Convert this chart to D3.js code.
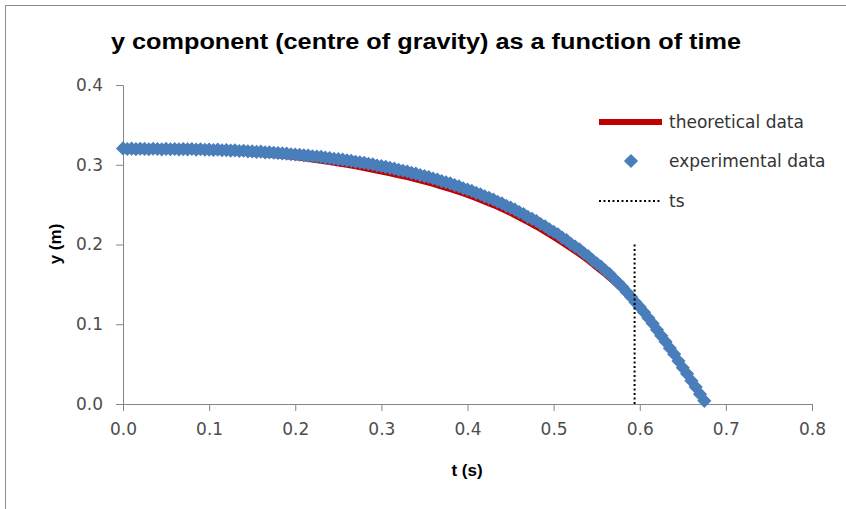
<!DOCTYPE html>
<html>
<head>
<meta charset="utf-8">
<script src="https://cdn.jsdelivr.net/npm/d3@7"></script>
<style>
  body { margin: 0; background: #fff; }
  text { font-family: "DejaVu Sans", sans-serif; }
</style>
</head>
<body>
<div id="chart"></div>
<script>
var width = 846,
    height = 509;

// experimental points (t in s, y in m)
var expT = [0.000,0.005,0.010,0.015,0.020,0.025,0.030,0.035,0.040,0.045,
            0.050,0.055,0.060,0.065,0.070,0.075,0.080,0.085,0.090,0.095,
            0.100,0.105,0.110,0.115,0.120,0.125,0.130,0.135,0.140,0.145,
            0.150,0.155,0.160,0.165,0.170,0.175,0.180,0.185,0.190,0.195,
            0.200,0.205,0.210,0.215,0.220,0.225,0.230,0.235,0.240,0.245,
            0.250,0.255,0.260,0.265,0.270,0.275,0.280,0.285,0.290,0.295,
            0.300,0.305,0.310,0.315,0.320,0.325,0.330,0.335,0.340,0.345,
            0.350,0.355,0.360,0.365,0.370,0.375,0.380,0.385,0.390,0.395,
            0.400,0.405,0.410,0.415,0.420,0.425,0.430,0.435,0.440,0.445,
            0.450,0.455,0.460,0.465,0.470,0.475,0.480,0.485,0.490,0.495,
            0.500,0.505,0.510,0.515,0.520,0.525,0.530,0.535,0.540,0.545,
            0.550,0.555,0.560,0.565,0.570,0.575,0.580,0.585,0.590,0.595,
            0.600,0.605,0.610,0.615,0.620,0.625,0.630,0.635,0.640,0.645,
            0.650,0.655,0.660,0.665,0.670,0.675];
var expY = [0.3205,0.3198,0.3202,0.3196,0.3201,0.3199,0.3194,0.3201,0.3197,0.3193,
            0.3199,0.3195,0.3198,0.3192,0.3196,0.3193,0.3197,0.3190,0.3194,0.3188,
            0.3190,0.3185,0.3189,0.3182,0.3184,0.3178,0.3181,0.3173,0.3176,0.3168,
            0.3167,0.3162,0.3164,0.3155,0.3156,0.3150,0.3148,0.3142,0.3140,0.3132,
            0.3129,0.3126,0.3118,0.3115,0.3106,0.3103,0.3099,0.3089,0.3084,0.3075,
            0.3070,0.3064,0.3055,0.3049,0.3038,0.3030,0.3024,0.3012,0.3005,0.2990,
            0.2982,0.2974,0.2960,0.2951,0.2936,0.2925,0.2916,0.2899,0.2888,0.2870,
            0.2858,0.2846,0.2827,0.2814,0.2794,0.2780,0.2766,0.2744,0.2729,0.2706,
            0.2690,0.2672,0.2648,0.2630,0.2604,0.2585,0.2564,0.2536,0.2515,0.2485,
            0.2463,0.2438,0.2406,0.2381,0.2347,0.2322,0.2294,0.2257,0.2229,0.2190,
            0.2160,0.2128,0.2086,0.2054,0.2010,0.1975,0.1940,0.1893,0.1856,0.1806,
            0.1765,0.1724,0.1673,0.1630,0.1572,0.1520,0.1465,0.1402,0.1343,0.1275,
            0.1215,0.1150,0.1078,0.1010,0.0930,0.0855,0.0782,0.0700,0.0625,0.0538,
            0.0455,0.0378,0.0290,0.0212,0.0123,0.0040];

// theoretical curve
var theoT = [0.00,0.01,0.02,0.03,0.04,0.05,0.06,0.07,0.08,0.09,
             0.10,0.11,0.12,0.13,0.14,0.15,0.16,0.17,0.18,0.19,
             0.20,0.21,0.22,0.23,0.24,0.25,0.26,0.27,0.28,0.29,
             0.30,0.31,0.32,0.33,0.34,0.35,0.36,0.37,0.38,0.39,
             0.40,0.41,0.42,0.43,0.44,0.45,0.46,0.47,0.48,0.49,
             0.50,0.51,0.52,0.53,0.54,0.55,0.56,0.57,0.58,0.59,
             0.60,0.61,0.62,0.63,0.64,0.65,0.66,0.67,0.677];
var theoY = [0.3200,0.3198,0.3195,0.3192,0.3189,0.3187,0.3184,0.3180,0.3176,0.3172,
             0.3167,0.3162,0.3157,0.3151,0.3144,0.3136,0.3128,0.3119,0.3109,0.3099,
             0.3089,0.3074,0.3059,0.3044,0.3027,0.3010,0.2992,0.2973,0.2953,0.2931,
             0.2907,0.2886,0.2862,0.2839,0.2812,0.2783,0.2753,0.2721,0.2689,0.2653,
             0.2615,0.2575,0.2531,0.2488,0.2439,0.2388,0.2333,0.2275,0.2217,0.2152,
             0.2085,0.2016,0.1943,0.1873,0.1792,0.1705,0.1619,0.1525,0.1423,0.1307,
             0.1185,0.1053,0.0910,0.0767,0.0615,0.0450,0.0290,0.0123,0.0000];

// ts marker
var tsT = [0.594, 0.594];
var tsY = [0.0, 0.2];

var xTicks = [0, 0.1, 0.2, 0.3, 0.4, 0.5, 0.6, 0.7, 0.8];
var yTicks = [0, 0.1, 0.2, 0.3, 0.4];
var legendLabels = ["theoretical data", "experimental data", "ts"];

var blue = "#4a7ebb", red = "#c00000", axisGrey = "#868686", labelGrey = "#4d4d4d";

var svg = d3.select("#chart").append("svg")
    .attr("width", width)
    .attr("height", height);

// outer frame
svg.append("rect")
    .attr("x", 5.5).attr("y", 5.5)
    .attr("width", 900).attr("height", 600)
    .attr("fill", "none")
    .attr("stroke", "#8c8c8c");

var x = d3.scaleLinear().domain([0, 0.8]).range([123, 812]);
var y = d3.scaleLinear().domain([0, 0.4]).range([404, 85]);

// axes
var xAxis = svg.append("g")
    .attr("transform", "translate(0," + y(0) + ")")
    .call(d3.axisBottom(x).tickValues(xTicks).tickSize(7).tickPadding(9)
      .tickFormat(d3.format(".1f")));
var yAxis = svg.append("g")
    .attr("transform", "translate(" + x(0) + ",0)")
    .call(d3.axisLeft(y).tickValues(yTicks).tickSize(7).tickPadding(13)
      .tickFormat(d3.format(".1f")));

[xAxis, yAxis].forEach(function(g){
  g.select(".domain").attr("stroke", axisGrey);
  g.selectAll(".tick line").attr("stroke", axisGrey);
  g.selectAll(".tick text")
    .attr("fill", labelGrey)
    .style("font-size", "17px")
    .style("font-family", "DejaVu Sans, sans-serif");
});
xAxis.selectAll(".tick text").attr("dy", "0.9em");

// theoretical line
var line = d3.line()
    .x(function(d){ return x(d[0]); })
    .y(function(d){ return y(d[1]); });

svg.append("path")
    .datum(d3.zip(theoT, theoY))
    .attr("d", line)
    .attr("fill", "none")
    .attr("stroke", red)
    .attr("stroke-width", 5);

// experimental markers (diamonds)
var diamond = d3.symbol().type(d3.symbolSquare).size(100);

svg.append("g")
  .selectAll("path")
  .data(d3.zip(expT, expY))
  .join("path")
    .attr("d", diamond)
    .attr("transform", function(d){ return "translate(" + x(d[0]) + "," + y(d[1]) + ") rotate(45)"; })
    .attr("fill", blue);

// ts dotted line
svg.append("path")
    .datum(d3.zip(tsT, tsY))
    .attr("d", line)
    .attr("stroke", "#000")
    .attr("stroke-width", 2)
    .attr("stroke-dasharray", "2,2.5");

// title
svg.append("text")
    .attr("x", 426)
    .attr("y", 49)
    .attr("text-anchor", "middle")
    .attr("textLength", 630)
    .attr("lengthAdjust", "spacingAndGlyphs")
    .style("font-family", "Liberation Sans, Arial, sans-serif")
    .style("font-weight", "bold")
    .style("font-size", "22px")
    .attr("fill", "#000")
    .text("y component (centre of gravity) as a function of time");

// axis titles
svg.append("text")
    .attr("x", 467)
    .attr("y", 476)
    .attr("text-anchor", "middle")
    .style("font-family", "Liberation Sans, Arial, sans-serif")
    .style("font-weight", "bold")
    .style("font-size", "17px")
    .text("t (s)");

svg.append("text")
    .attr("transform", "translate(61,244) rotate(-90)")
    .attr("text-anchor", "middle")
    .style("font-family", "Liberation Sans, Arial, sans-serif")
    .style("font-weight", "bold")
    .style("font-size", "17px")
    .text("y (m)");

// legend
var legend = svg.append("g");
var legendY = [122, 161, 201];

legend.append("line")
    .attr("x1", 599).attr("x2", 662)
    .attr("y1", legendY[0]).attr("y2", legendY[0])
    .attr("stroke", red).attr("stroke-width", 6);

legend.append("path")
    .attr("d", diamond)
    .attr("transform", "translate(631," + legendY[1] + ") rotate(45)")
    .attr("fill", blue);

legend.append("line")
    .attr("x1", 599).attr("x2", 662)
    .attr("y1", legendY[2]).attr("y2", legendY[2])
    .attr("stroke", "#000").attr("stroke-width", 2)
    .attr("stroke-dasharray", "2,2.5");

legend.selectAll("text")
  .data(legendLabels)
  .join("text")
    .attr("x", 669)
    .attr("y", function(d, i){ return legendY[i]; })
    .attr("dy", "0.35em")
    .attr("fill", "#333")
    .style("font-size", "17px")
    .text(function(d){ return d; });
</script>
</body>
</html>
